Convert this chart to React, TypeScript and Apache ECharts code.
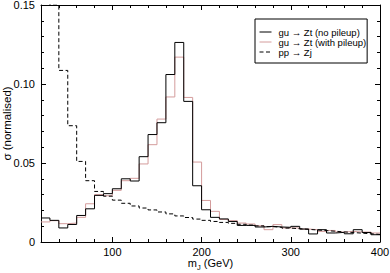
import React, { useEffect, useRef } from 'react';
import * as echarts from 'echarts';

// Histogram bins: left edges start at 20 GeV, 10 GeV wide, up to 400 GeV
const binStart = 20;
const binWidth = 10;

// gu -> Zt (no pileup)
const noPileup = [
  0.0152, 0.0137, 0.0089, 0.0111, 0.0168, 0.021, 0.0295, 0.0306, 0.0337, 0.040,
  0.0386, 0.054, 0.068, 0.0755, 0.106, 0.1263, 0.089, 0.0356, 0.0204, 0.0156,
  0.0146, 0.013, 0.0105, 0.0105, 0.0095, 0.0099, 0.0095, 0.0093, 0.0099, 0.0082,
  0.0051, 0.0078, 0.0057, 0.0061, 0.0052, 0.0078, 0.006, 0.0046,
];

// gu -> Zt (with pileup)
const withPileup = [
  0.0127, 0.0135, 0.0116, 0.012, 0.0156, 0.0242, 0.030, 0.0293, 0.0327, 0.0388,
  0.0403, 0.0494, 0.0616, 0.0778, 0.0918, 0.117, 0.0915, 0.0506, 0.0263, 0.0194,
  0.0143, 0.0135, 0.012, 0.0114, 0.0103, 0.0078, 0.011, 0.0089, 0.0089, 0.0082,
  0.0078, 0.0067, 0.0073, 0.0063, 0.0067, 0.0063, 0.0063, 0.0057,
];

// pp -> Zj
const ppZj = [
  0.2, 0.15, 0.1086, 0.0736, 0.051, 0.0388, 0.032, 0.029, 0.0265, 0.0245,
  0.0228, 0.0215, 0.0203, 0.019, 0.0178, 0.0165, 0.0155, 0.0145, 0.0137, 0.013,
  0.0124, 0.0118, 0.0112, 0.0107, 0.0102, 0.0097, 0.0093, 0.0088, 0.0084, 0.008,
  0.0076, 0.0072, 0.0068, 0.0064, 0.006, 0.0056, 0.0052, 0.0048,
];

const seriesNames = ['gu \u2192 Zt (no pileup)', 'gu \u2192 Zt (with pileup)', 'pp \u2192 Zj'];
const xMajorTicks = [100, 200, 300, 400];

const FONT = "'Liberation Sans', Arial, Helvetica, sans-serif";

function toSteps(values: number[]): number[][] {
  const pts = values.map((v, i) => [binStart + i * binWidth, v]);
  pts.push([binStart + values.length * binWidth, values[values.length - 1]]);
  return pts;
}

export default function App() {
  const ref = useRef<HTMLDivElement>(null);

  useEffect(() => {
    if (!ref.current) return;
    const chart = echarts.init(ref.current, null, { renderer: 'svg' });
    const black = '#000';
    const tickStyle = { color: black, width: 1 };

    const xMinor = (pos: 'bottom' | 'top', withLabels: boolean) => ({
      type: 'value',
      position: pos,
      min: 20,
      max: 400,
      interval: 20,
      axisLine: { show: true, onZero: false, lineStyle: { color: black, width: 1 } },
      axisTick: { show: true, inside: true, length: 3, lineStyle: tickStyle },
      axisLabel: withLabels
        ? { show: true, customValues: xMajorTicks, color: black, fontSize: 11, fontFamily: FONT, margin: 4 }
        : { show: false },
      splitLine: { show: false },
    });
    const xMajor = (pos: 'bottom' | 'top') => ({
      type: 'value',
      position: pos,
      min: 20,
      max: 400,
      axisLine: { show: false, onZero: false },
      axisTick: { show: true, inside: true, length: 5, customValues: xMajorTicks, lineStyle: tickStyle },
      axisLabel: { show: false },
      splitLine: { show: false },
    });

    const yAxisCfg = (pos: 'left' | 'right', withLabels: boolean) => ({
      type: 'value',
      position: pos,
      min: 0,
      max: 0.15,
      interval: 0.05,
      axisLine: { show: true, onZero: false, lineStyle: { color: black, width: 1 } },
      axisTick: { show: true, inside: true, length: 5, lineStyle: tickStyle },
      minorTick: { show: true, splitNumber: 5, length: 3, lineStyle: tickStyle },
      axisLabel: withLabels
        ? {
            show: true,
            color: black,
            fontSize: 11,
            fontFamily: FONT,
            margin: 6,
            formatter: (v: number) => (v === 0 ? '0' : v.toFixed(2)),
          }
        : { show: false },
      splitLine: { show: false },
      minorSplitLine: { show: false },
    });

    const xName = Object.assign(xMinor('bottom', true), {
      name: '{m|m}{s|J}{m| (GeV)}',
      nameLocation: 'middle',
      nameGap: 14,
      nameMoveOverlap: false,
      nameTextStyle: {
        color: black,
        fontFamily: FONT,
        fontSize: 11,
        rich: {
          m: { fontSize: 11, fontFamily: FONT, color: black, lineHeight: 13 },
          s: { fontSize: 7.5, fontFamily: FONT, color: black, lineHeight: 8, padding: [9, 0, 0, 0] },
        },
      },
    });

    const yLeft = Object.assign(yAxisCfg('left', true), {
      name: '\u03c3 (normalised)',
      nameLocation: 'middle',
      nameGap: 28,
      nameRotate: 90,
      nameMoveOverlap: false,
      nameTextStyle: { color: black, fontFamily: FONT, fontSize: 11.5 },
    });

    chart.setOption({
      animation: false,
      backgroundColor: '#fff',
      grid: { left: 41, right: 10, top: 5, bottom: 31, containLabel: false, outerBoundsMode: 'none' },
      xAxis: [xName, xMajor('bottom'), xMinor('top', false), xMajor('top')],
      yAxis: [yLeft, yAxisCfg('right', false)],
      legend: {
        data: seriesNames,
        orient: 'vertical',
        left: 255,
        top: 19,
        padding: [8, 1, 6, 4],
        itemWidth: 12,
        itemHeight: 10,
        itemGap: 0,
        borderColor: black,
        borderWidth: 1,
        borderRadius: 0,
        backgroundColor: '#fff',
        itemStyle: { color: 'rgba(0,0,0,0)', borderWidth: 0, opacity: 0 },
        lineStyle: { width: 1 },
        textStyle: { fontSize: 9.5, fontFamily: FONT, color: black, lineHeight: 10, padding: [0, 0, 0, 2] },
      },
      series: [
        {
          type: 'line',
          name: seriesNames[1],
          data: toSteps(withPileup),
          step: 'end',
          symbol: 'none',
          clip: true,
          xAxisIndex: 0,
          yAxisIndex: 0,
          lineStyle: { color: '#d49c9c', width: 1 },
          itemStyle: { color: '#d49c9c' },
        },
        {
          type: 'line',
          name: seriesNames[0],
          data: toSteps(noPileup),
          step: 'end',
          symbol: 'none',
          clip: true,
          xAxisIndex: 0,
          yAxisIndex: 0,
          lineStyle: { color: '#000', width: 1 },
          itemStyle: { color: '#000' },
        },
        {
          type: 'line',
          name: seriesNames[2],
          data: toSteps(ppZj),
          step: 'end',
          symbol: 'none',
          clip: true,
          xAxisIndex: 0,
          yAxisIndex: 0,
          lineStyle: { color: '#000', width: 1, type: [4, 2.5] },
          itemStyle: { color: '#000' },
        },
      ],
    } as any);

    return () => {
      chart.dispose();
    };
  }, []);

  return (
    <div
      ref={ref}
      style={{ position: 'absolute', left: 0, top: 0, width: 390, height: 273 }}
    />
  );
}
